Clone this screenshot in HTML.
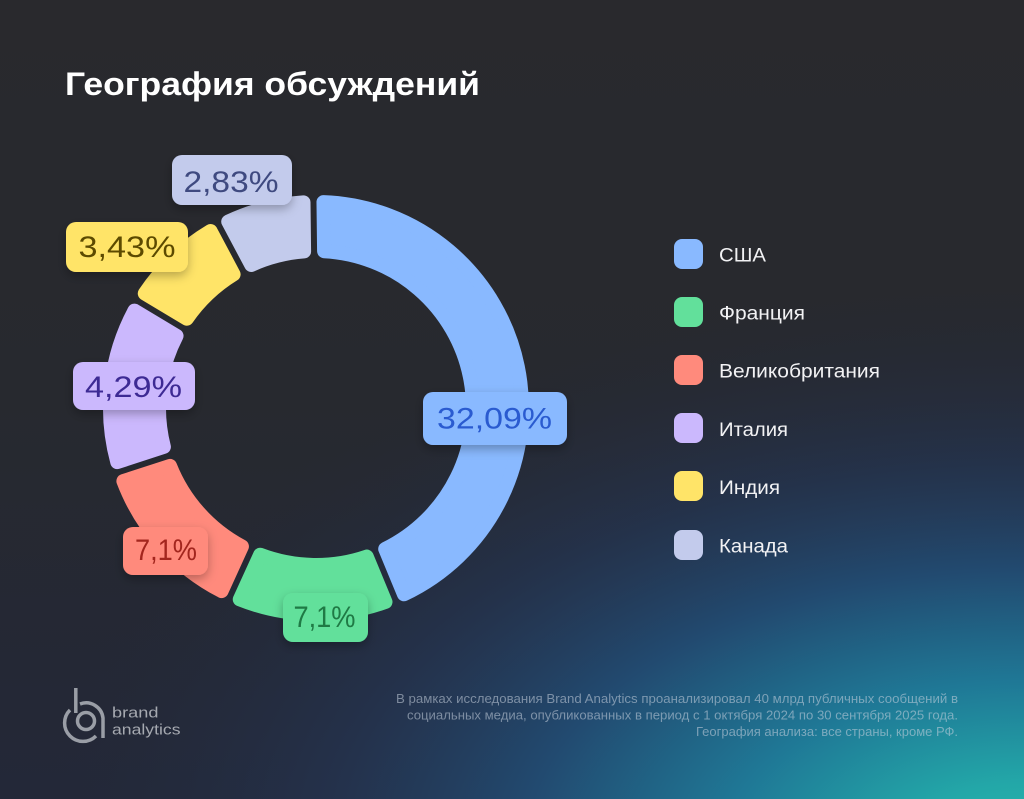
<!DOCTYPE html>
<html lang="ru">
<head>
<meta charset="utf-8">
<style>
  html,body{margin:0;padding:0;background:#27282d;}
  body{width:1024px;height:799px;overflow:hidden;}
  svg{display:block;}
  text{font-family:"Liberation Sans","Noto Sans CJK SC",sans-serif;}
</style>
</head>
<body>
<svg width="1024" height="799" viewBox="0 0 1024 799" xmlns="http://www.w3.org/2000/svg">
  <defs>
    <linearGradient id="bg" x1="0" y1="0" x2="0" y2="1">
      <stop offset="0" stop-color="#29292d"/>
      <stop offset="0.5" stop-color="#27292f"/>
      <stop offset="1" stop-color="#232838"/>
    </linearGradient>
    <radialGradient id="glow" gradientUnits="userSpaceOnUse" cx="1024" cy="850" r="1000"
      gradientTransform="translate(1024 850) scale(1 0.56) translate(-1024 -850)">
      <stop offset="0" stop-color="#27bbae"/>
      <stop offset="0.12" stop-color="#23a7a8"/>
      <stop offset="0.3" stop-color="#1f7896"/>
      <stop offset="0.5" stop-color="#224a70"/>
      <stop offset="0.7" stop-color="#243553" stop-opacity="0.7"/>
      <stop offset="1" stop-color="#232837" stop-opacity="0"/>
    </radialGradient>
    <filter id="sh" x="-30%" y="-30%" width="160%" height="180%">
      <feDropShadow dx="0" dy="4" stdDeviation="5" flood-color="#000" flood-opacity="0.28"/>
    </filter>
  </defs>

  <!-- background -->
  <rect x="0" y="0" width="1024" height="799" fill="url(#bg)"/>
  <rect x="0" y="0" width="1024" height="799" fill="url(#glow)"/>

  <!-- title -->
  <text x="65" y="95" font-size="32" font-weight="bold" fill="#ffffff" textLength="415" lengthAdjust="spacingAndGlyphs">География обсуждений</text>

  <!-- donut segments -->
  <g stroke-width="14" stroke-linejoin="round">
    <path d="M323.48,202.14 A206,206 0 0 1 403.96,594.27 L385.19,548.94 A157,157 0 0 0 324.08,251.21 Z" fill="#89b9ff" stroke="#89b9ff"/>
    <path d="M385.50,601.93 A206,206 0 0 1 239.76,599.37 L260.12,554.72 A157,157 0 0 0 366.73,556.58 Z" fill="#62e09b" stroke="#62e09b"/>
    <path d="M221.59,591.09 A206,206 0 0 1 123.39,481.09 L170.07,465.92 A157,157 0 0 0 241.93,546.43 Z" fill="#ff8a7c" stroke="#ff8a7c"/>
    <path d="M117.23,462.08 A206,206 0 0 1 134.49,310.60 L176.55,335.87 A157,157 0 0 0 163.90,446.90 Z" fill="#cbb8fd" stroke="#cbb8fd"/>
    <path d="M144.77,293.44 A206,206 0 0 1 210.59,231.00 L233.62,274.35 A157,157 0 0 0 186.87,318.70 Z" fill="#ffe468" stroke="#ffe468"/>
    <path d="M228.22,221.63 A206,206 0 0 1 303.50,202.37 L304.10,251.45 A157,157 0 0 0 251.27,264.97 Z" fill="#c3cbec" stroke="#c3cbec"/>
  </g>

  <!-- value labels -->
  <g font-size="30" text-anchor="middle">
    <rect x="172" y="155" width="120" height="50" rx="10" fill="#c3cbec" filter="url(#sh)"/>
    <text x="231" y="192" fill="#3f4a80" textLength="95" lengthAdjust="spacingAndGlyphs">2,83%</text>

    <rect x="66" y="222" width="122" height="50" rx="10" fill="#ffe468" filter="url(#sh)"/>
    <text x="127" y="257" fill="#5c4a00" textLength="97" lengthAdjust="spacingAndGlyphs">3,43%</text>

    <rect x="73" y="362" width="122" height="48" rx="10" fill="#cbb8fd" filter="url(#sh)"/>
    <text x="133.5" y="397" fill="#3d2a94" textLength="97" lengthAdjust="spacingAndGlyphs">4,29%</text>

    <rect x="423" y="392" width="144" height="53" rx="10" fill="#89b9ff" filter="url(#sh)"/>
    <text x="494.5" y="428.5" fill="#2a5bd0" textLength="115" lengthAdjust="spacingAndGlyphs">32,09%</text>

    <rect x="123" y="527" width="85" height="48" rx="10" fill="#ff8a7c" filter="url(#sh)"/>
    <text x="166" y="560" fill="#a3261e" textLength="62" lengthAdjust="spacingAndGlyphs">7,1%</text>

    <rect x="283" y="593" width="85" height="49" rx="10" fill="#62e09b" filter="url(#sh)"/>
    <text x="324.5" y="627" fill="#1f7a45" textLength="62" lengthAdjust="spacingAndGlyphs">7,1%</text>
  </g>

  <!-- legend -->
  <g font-size="19" fill="#f2f2f4">
    <rect x="674" y="239" width="29" height="30" rx="8" fill="#89b9ff"/>
    <text x="719" y="261.7" textLength="47" lengthAdjust="spacingAndGlyphs">США</text>

    <rect x="674" y="297" width="29" height="30" rx="8" fill="#62e09b"/>
    <text x="719" y="319.5" textLength="86" lengthAdjust="spacingAndGlyphs">Франция</text>

    <rect x="674" y="355" width="29" height="30" rx="8" fill="#ff8a7c"/>
    <text x="719" y="377.7" textLength="161" lengthAdjust="spacingAndGlyphs">Великобритания</text>

    <rect x="674" y="413" width="29" height="30" rx="8" fill="#cbb8fd"/>
    <text x="719" y="435.8" textLength="69" lengthAdjust="spacingAndGlyphs">Италия</text>

    <rect x="674" y="471" width="29" height="30" rx="8" fill="#ffe468"/>
    <text x="719" y="494" textLength="61" lengthAdjust="spacingAndGlyphs">Индия</text>

    <rect x="674" y="530" width="29" height="30" rx="8" fill="#c3cbec"/>
    <text x="719" y="552.5" textLength="69" lengthAdjust="spacingAndGlyphs">Канада</text>
  </g>

  <!-- logo -->
  <g fill="none" stroke="#9a9ea6" stroke-width="3.5" stroke-linecap="butt">
    <line x1="75.8" y1="688" x2="75.8" y2="713"/>
    <circle cx="86" cy="721" r="8.5"/>
    <path d="M70,710 A16,16 0 1 0 96,736"/>
    <path d="M80,704 A17,17 0 0 1 103,718 L103,738"/>
  </g>
  <g font-size="15" fill="#a6a9b0">
    <text x="112" y="717.3" textLength="46.5" lengthAdjust="spacingAndGlyphs">brand</text>
    <text x="112" y="734.3" textLength="68.5" lengthAdjust="spacingAndGlyphs">analytics</text>
  </g>

  <!-- footer note -->
  <g font-size="13" fill="#c8d2de" fill-opacity="0.55" text-anchor="end">
    <text x="958" y="703" textLength="562" lengthAdjust="spacingAndGlyphs">В рамках исследования Brand Analytics проанализировал 40 млрд публичных сообщений в</text>
    <text x="958" y="719.5" textLength="551" lengthAdjust="spacingAndGlyphs">социальных медиа, опубликованных в период с 1 октября 2024 по 30 сентября 2025 года.</text>
    <text x="958" y="736" textLength="262" lengthAdjust="spacingAndGlyphs">География анализа: все страны, кроме РФ.</text>
  </g>
</svg>
</body>
</html>
